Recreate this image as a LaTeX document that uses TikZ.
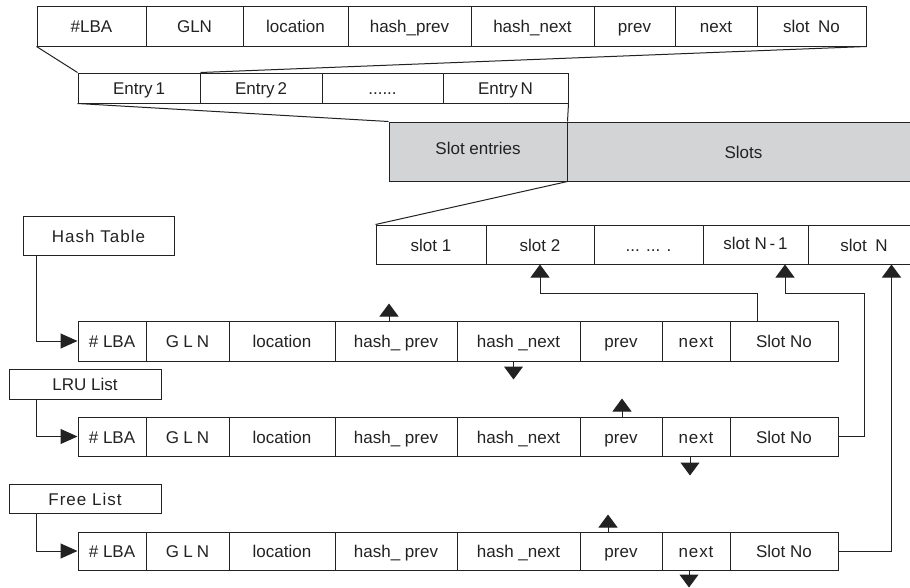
\documentclass[tikz,border=0pt]{standalone}
\usepackage{fontspec}
\setmainfont{Liberation Sans}
\usetikzlibrary{arrows.meta,calc}
\definecolor{ink}{HTML}{222222}
\definecolor{slotgray}{HTML}{D3D4D6}
\newcommand\ls[2]{{\addfontfeature{LetterSpace=#1}#2}}
\newcommand\cellnode[6]{\node[cellbox,minimum width={(#3-#2)*1pt},minimum height={#5*1pt}] (#1) at ({(#2+#3)/2},{#4}) {#6};}
\begin{document}
\begin{tikzpicture}[x=1pt,y=-1pt,
  cellbox/.style={draw=ink,line width=1pt,inner sep=0pt,text=ink,text height=14pt,text depth=1pt,font=\fontsize{17}{20}\selectfont},
  conn/.style={draw=ink,line width=1pt},
  stub/.style={-{Triangle[width=19pt,length=13pt]}},
  ptr/.style={-{Triangle[width=15pt,length=17pt]}}
]
\useasboundingbox (0,0) rectangle (910,587);

% top row
\cellnode{t1}{37}{146}{26}{40}{\#LBA}
\cellnode{t2}{146}{243}{26}{40}{GLN}
\cellnode{t3}{243}{348}{26}{40}{location}
\cellnode{t4}{348}{471}{26}{40}{hash\_prev}
\cellnode{t5}{471}{594}{26}{40}{hash\_next}
\cellnode{t6}{594}{675}{26}{40}{prev}
\cellnode{t7}{675}{757}{26}{40}{next}
\cellnode{t8}{757}{866}{26}{40}{slot\enspace No}

% entry row
\cellnode{e1}{78}{200}{88}{30}{Entry\,1}
\cellnode{e2}{200}{322}{88}{30}{Entry\,2}
\cellnode{e3}{322}{443}{88}{30}{......}
\cellnode{e4}{443}{568}{88}{30}{Entry\,N}

% slot area
\node[cellbox,fill=slotgray,minimum width=178pt,minimum height=59pt] (se) at (478,151.5) {\raisebox{4pt}{Slot entries}};
\node[cellbox,fill=slotgray,minimum width=353pt,minimum height=59pt] (sl) at (743.5,151.5) {Slots};

% slot row
\cellnode{s1}{376}{486}{244.5}{39}{slot 1}
\cellnode{s2}{486}{594}{244.5}{39}{slot 2}
\cellnode{s3}{594}{703}{244.5}{39}{... ... .}
\cellnode{s4}{703}{808}{244.5}{39}{\raisebox{2pt}{slot N\,-\,1}}
\cellnode{s5}{808}{920}{244.5}{39}{slot\enspace N}

% zoom lines
\draw[conn] (t1.south west) -- (e1.north west);
\draw[conn] (t8.south east) -- (e1.north east);
\draw[conn] (e1.south west) -- (se.north west);
\draw[conn] (e4.south east) -- (se.north east);
\draw[conn] (se.south east) -- (s1.north west);

% list heads
\cellnode{ht}{23}{174}{235.5}{39}{\ls{6}{Hash Table}}
\cellnode{lru}{9}{161}{384}{30}{LRU List}
\cellnode{fl}{9}{161}{498.5}{29}{\ls{6}{Free List}}

% hash row
\cellnode{h1}{78}{146}{341}{40}{\# LBA}
\cellnode{h2}{146}{229}{341}{40}{\ls{25}{GLN}}
\cellnode{h3}{229}{335}{341}{40}{location}
\cellnode{h4}{335}{457}{341}{40}{hash\_ prev}
\cellnode{h5}{457}{580}{341}{40}{hash \_next}
\cellnode{h6}{580}{662}{341}{40}{prev}
\cellnode{h7}{662}{730}{341}{40}{\ls{5}{next}}
\cellnode{h9}{730}{838}{341}{40}{Slot No}

% LRU row
\cellnode{l1}{78}{146}{436.5}{39}{\# LBA}
\cellnode{l2}{146}{229}{436.5}{39}{\ls{25}{GLN}}
\cellnode{l3}{229}{335}{436.5}{39}{location}
\cellnode{l4}{335}{457}{436.5}{39}{hash\_ prev}
\cellnode{l5}{457}{580}{436.5}{39}{hash \_next}
\cellnode{l6}{580}{662}{436.5}{39}{prev}
\cellnode{l7}{662}{730}{436.5}{39}{\ls{5}{next}}
\cellnode{l9}{730}{838}{436.5}{39}{Slot No}

% Free row
\cellnode{f1}{78}{146}{551}{38}{\# LBA}
\cellnode{f2}{146}{229}{551}{38}{\ls{25}{GLN}}
\cellnode{f3}{229}{335}{551}{38}{location}
\cellnode{f4}{335}{457}{551}{38}{hash\_ prev}
\cellnode{f5}{457}{580}{551}{38}{hash \_next}
\cellnode{f6}{580}{662}{551}{38}{prev}
\cellnode{f7}{662}{730}{551}{38}{\ls{5}{next}}
\cellnode{f9}{730}{838}{551}{38}{Slot No}

% head pointers
\draw[conn,ptr] ($(ht.south west)+(14,0)$) |- (h1.west);
\draw[conn,ptr] ($(lru.south west)+(28,0)$) |- (l1.west);
\draw[conn,ptr] ($(fl.south west)+(28,0)$) |- (f1.west);

% stubs
\draw[conn,stub] ($(h4.north)+(-7,0)$) -- ++(0,-17);
\draw[conn,stub] ($(h5.south)+(-5,0)$) -- ++(0,18);
\draw[conn,stub] ($(l6.north)+(1,0)$) -- ++(0,-18);
\draw[conn,stub] ($(l7.south)+(-6,0)$) -- ++(0,19);
\draw[conn,stub] ($(f6.north)+(-13,0)$) -- ++(0,-17);
\draw[conn,stub] ($(f7.south)+(-7,0)$) -- ++(0,17);

% slot pointers
\draw[conn,stub] ($(h9.north)+(-27,0)$) |- ($(s2.south)+(0,29)$) -- (s2.south);
\draw[conn,stub] (l9.east) -- ++(26,0) |- ($(s4.south)+(29.5,29)$) -- ($(s4.south)+(29.5,0)$);
\draw[conn,stub] (f9.east) -| ($(s5.south west)+(84,0)$);
\end{tikzpicture}
\end{document}
